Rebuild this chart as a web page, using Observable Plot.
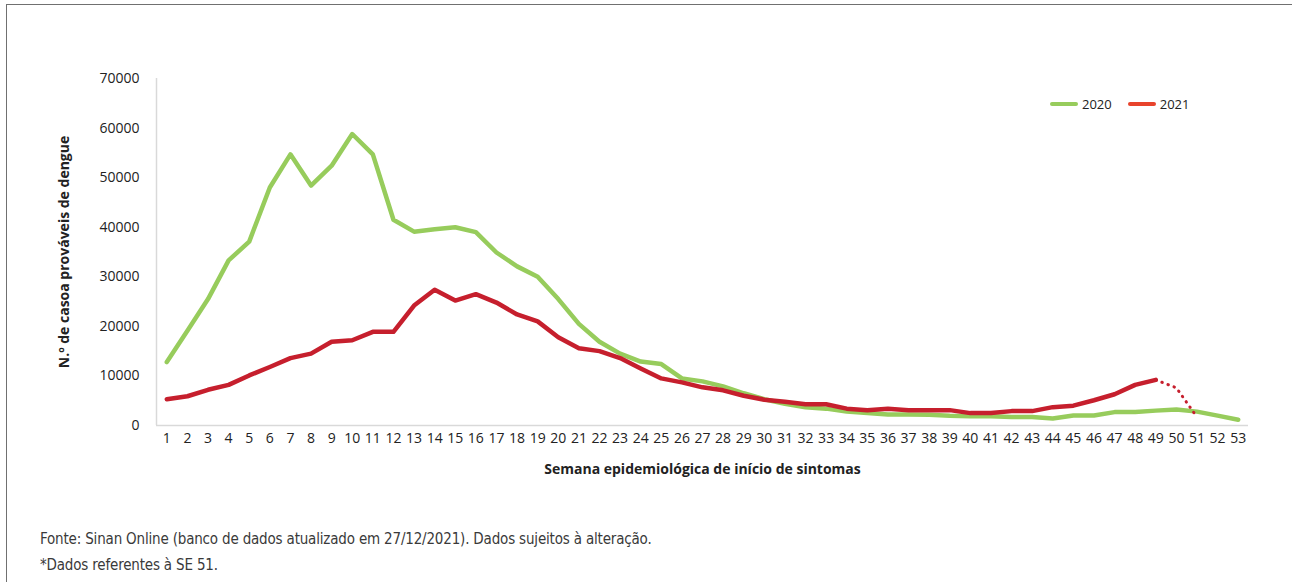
<!DOCTYPE html>
<html>
<head>
<meta charset="utf-8">
<script src="https://cdn.jsdelivr.net/npm/d3@7"></script>
<script src="https://cdn.jsdelivr.net/npm/@observablehq/plot@0.6"></script>
<style>
  html, body { margin: 0; padding: 0; background: #fff; }
  #wrap { position: relative; width: 1292px; height: 582px; overflow: hidden; font-family: "Open Sans", "Noto Sans", sans-serif; }
  #frame { position: absolute; left: 6px; top: 4px; width: 1300px; height: 600px; border-left: 1.5px solid #707070; border-top: 1.5px solid #707070; }
  #chart { position: absolute; left: 0; top: 0; }
  #legend { position: absolute; top: 95px; left: 1050px; font-size: 13px; color: #222; display: flex; align-items: center; }
  #legend .sw { display: inline-block; width: 28px; height: 4px; border-radius: 2px; margin-right: 4px; }
  #legend .it { display: flex; align-items: center; margin-right: 16px; }
  #caption { position: absolute; left: 40px; top: 526px; font-family: "Liberation Sans Narrow", "DejaVu Sans Condensed", sans-serif; font-size: 15px; letter-spacing: -0.18px; color: #3a3a3a; line-height: 26px; }
</style>
</head>
<body>
<div id="wrap">
  <div id="frame"></div>
  <div id="chart"></div>
  <div id="legend"></div>
  <div id="caption"></div>
</div>
<script>
const weeks = d3.range(1, 54);
const cases2020 = [12800, 19100, 25500, 33300, 37100, 48000, 54700, 48400, 52400, 58800,
  54700, 41500, 39100, 39600, 40000, 39000, 34900, 32100, 30000, 25500,
  20500, 16900, 14500, 12900, 12400, 9500, 8900, 7900, 6500, 5300,
  4400, 3700, 3400, 2800, 2500, 2200, 2200, 2150, 1950, 1850,
  1850, 1700, 1700, 1400, 2000, 2000, 2700, 2700, 3000, 3250,
  2800, 2000, 1150];
const weeks2021 = d3.range(1, 50);
const cases2021 = [5300, 5900, 7200, 8200, 10100, 11800, 13600, 14500, 16900, 17200,
  18900, 18900, 24200, 27400, 25200, 26500, 24800, 22400, 21000, 17800,
  15600, 15000, 13600, 11500, 9500, 8700, 7700, 7100, 6000, 5200,
  4800, 4300, 4300, 3400, 3100, 3400, 3100, 3100, 3100, 2500,
  2500, 2900, 2900, 3700, 4000, 5100, 6300, 8200, 9200];
const weeks2021Partial = [49, 50, 51];
const cases2021Partial = [9200, 7600, 1700];

const seriesNames = ["2020", "2021"];
const lineColors = ["#97cc5c", "#c61f2d"];
const legendColors = ["#97cc5c", "#e8432c"];
const yTicks = [0, 10000, 20000, 30000, 40000, 50000, 60000, 70000];

const d2020 = weeks.map((w, i) => ({week: w, cases: cases2020[i]}));
const d2021 = weeks2021.map((w, i) => ({week: w, cases: cases2021[i]}));
const d2021p = weeks2021Partial.map((w, i) => ({week: w, cases: cases2021Partial[i]}));

const plot = Plot.plot({
  width: 1292,
  height: 500,
  marginLeft: 156,
  marginRight: 44,
  marginTop: 78,
  marginBottom: 75,
  style: {fontFamily: "'Open Sans', 'Noto Sans', sans-serif", fontSize: "14px", color: "#222", background: "transparent"},
  x: {type: "linear", domain: [0.5, 53.5]},
  y: {domain: [0, 70000]},
  marks: [
    Plot.ruleX([0.5], {y1: 0, y2: 70000, stroke: "#d9d9d9", strokeWidth: 1.5}),
    Plot.ruleY([0], {stroke: "#d9d9d9", strokeWidth: 1.5}),
    Plot.axisX(weeks, {tickSize: 0, tickPadding: 8, tickFormat: d => String(d), fontSize: 14,
      label: "Semana epidemiológica de início de sintomas", labelAnchor: "center", labelArrow: "none", labelOffset: 48}),
    Plot.axisY(yTicks, {tickSize: 0, tickPadding: 17, tickFormat: d => String(d), fontSize: 14,
      label: "N.º de casoa prováveis de dengue", labelAnchor: "center", labelArrow: "none", labelOffset: 97}),
    Plot.line(d2020, {x: "week", y: "cases", stroke: lineColors[0], strokeWidth: 4.5, strokeLinejoin: "round", strokeLinecap: "round"}),
    Plot.line(d2021, {x: "week", y: "cases", stroke: lineColors[1], strokeWidth: 4.5, strokeLinejoin: "round", strokeLinecap: "round"}),
    Plot.line(d2021p, {x: "week", y: "cases", stroke: lineColors[1], strokeWidth: 3, strokeLinecap: "round", strokeDasharray: "0.5,6"})
  ]
});
// axis titles in bold
plot.querySelectorAll("g[aria-label='x-axis label'] text, g[aria-label='y-axis label'] text").forEach(t => {
  t.setAttribute("font-weight", "bold");
});
document.getElementById("chart").appendChild(plot);

const legend = document.getElementById("legend");
seriesNames.forEach((n, i) => {
  const it = document.createElement("span");
  it.className = "it";
  const sw = document.createElement("span");
  sw.className = "sw";
  sw.style.background = legendColors[i];
  it.appendChild(sw);
  it.appendChild(document.createTextNode(n));
  legend.appendChild(it);
});

const captionLines = [
  "Fonte: Sinan Online (banco de dados atualizado em 27/12/2021). Dados sujeitos à alteração.",
  "*Dados referentes à SE 51."
];
const cap = document.getElementById("caption");
captionLines.forEach(l => { const d = document.createElement("div"); d.textContent = l; cap.appendChild(d); });
</script>
</body>
</html>
